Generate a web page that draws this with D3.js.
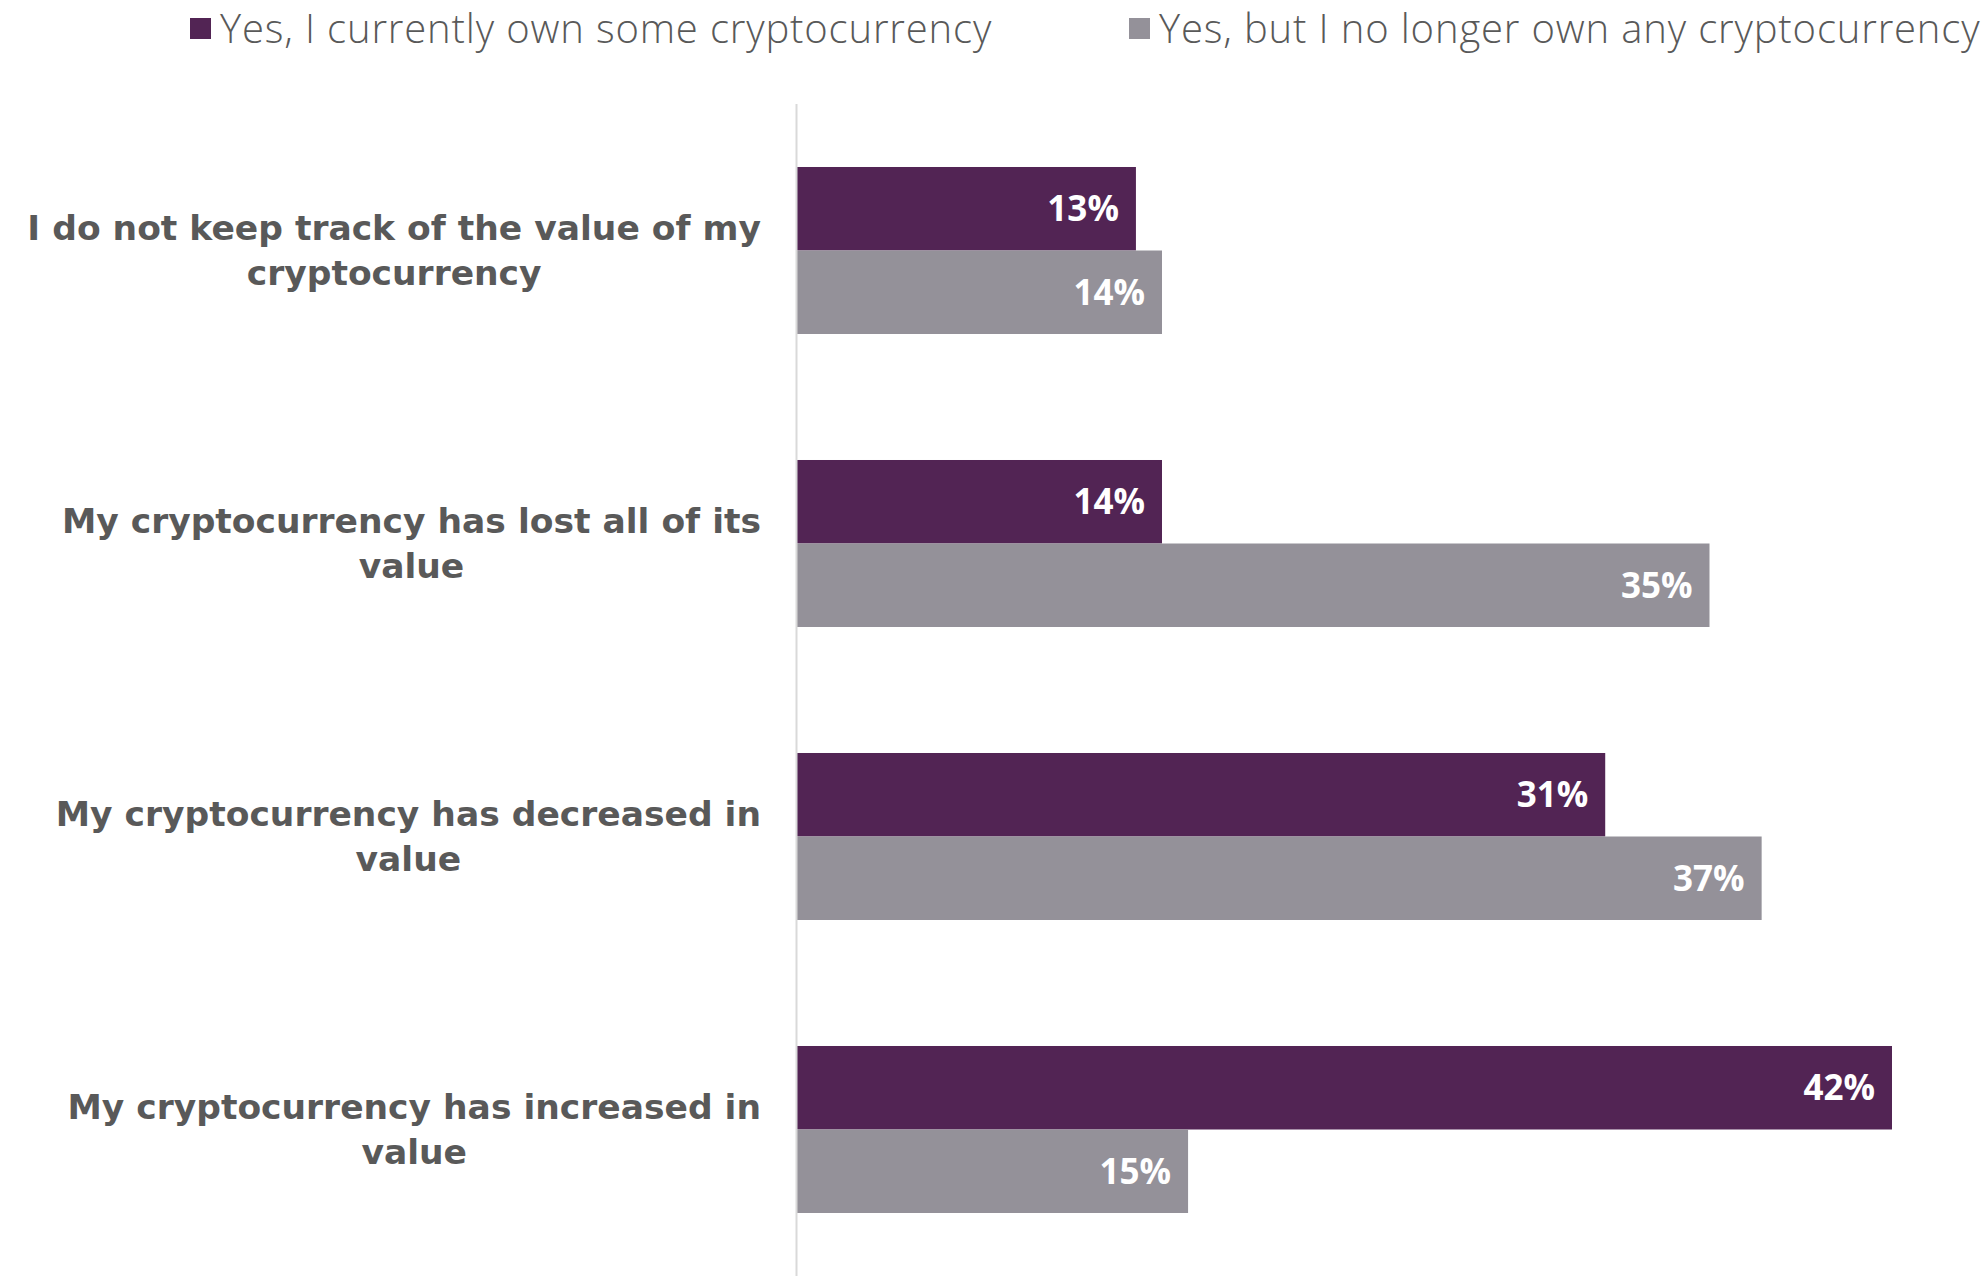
<!DOCTYPE html>
<html>
<head>
<meta charset="utf-8">
<script src="https://cdn.jsdelivr.net/npm/d3@7"></script>
<style>
  html, body { margin: 0; padding: 0; background: #ffffff; }
  svg { display: block; }
</style>
</head>
<body>
<svg id="chart" width="1986" height="1276"></svg>
<script>
// Survey answers, one row per statement (top to bottom)
const categories = [
  ["I do not keep track of the value of my", "cryptocurrency"],
  ["My cryptocurrency has lost all of its", "value"],
  ["My cryptocurrency has decreased in", "value"],
  ["My cryptocurrency has increased in", "value"]
];
const seriesNames = [
  "Yes, I currently own some cryptocurrency",
  "Yes, but I no longer own any cryptocurrency"
];
const currentOwners = [13, 14, 31, 42];
const formerOwners = [14, 35, 37, 15];

const colors = ["#522454", "#949199"];
const textGrey = "#595959";
const labelFont = "'Open Sans', 'DejaVu Sans', sans-serif";
const catFont = "'DejaVu Sans', 'Open Sans', sans-serif";

const svg = d3.select("#chart");
const W = 1986, H = 1276;
const x0 = 797;

const x = d3.scaleLinear().domain([0, 42]).range([x0, 1892]);
const y = d3.scaleBand()
  .domain(d3.range(categories.length))
  .range([104, 1276])
  .paddingInner(0.43)
  .paddingOuter(0.215);
const ySeries = d3.scaleBand()
  .domain([0, 1])
  .range([0, y.bandwidth()]);

const seriesValues = [currentOwners, formerOwners];

// Bars
seriesValues.forEach((vals, s) => {
  const g = svg.append("g");
  g.selectAll("rect")
    .data(vals)
    .join("rect")
    .attr("x", x(0))
    .attr("y", (d, i) => y(i) + ySeries(s))
    .attr("width", d => x(d) - x(0))
    .attr("height", ySeries.bandwidth())
    .attr("fill", colors[s]);

  g.selectAll("text")
    .data(vals)
    .join("text")
    .attr("x", d => x(d) - 17)
    .attr("y", (d, i) => y(i) + ySeries(s) + ySeries.bandwidth() / 2)
    .attr("dy", "0.35em")
    .attr("text-anchor", "end")
    .attr("fill", "#ffffff")
    .attr("font-family", labelFont)
    .attr("font-weight", 700)
    .attr("font-size", 35)
    .text(d => d + "%");
});

// Vertical baseline
svg.append("line")
  .attr("x1", x0 - 0.5).attr("x2", x0 - 0.5)
  .attr("y1", 104).attr("y2", H)
  .attr("stroke", "#d9d9d9")
  .attr("stroke-width", 2);

// Category labels: block right-aligned, lines centred within the block
const labelRight = 761;
const lineGap = 45.6;
categories.forEach((lines, i) => {
  const cy = y(i) + y.bandwidth() / 2;
  const t = svg.append("text")
    .attr("text-anchor", "middle")
    .attr("fill", textGrey)
    .attr("font-family", catFont)
    .attr("font-weight", 700)
    .attr("font-size", 34.5);
  const spans = lines.map((line, k) =>
    t.append("tspan")
      .attr("y", cy + (k - (lines.length - 1) / 2) * lineGap)
      .attr("dy", "0.35em")
      .text(line)
  );
  const maxW = d3.max(spans, sp => sp.node().getComputedTextLength());
  spans.forEach(sp => sp.attr("x", labelRight - maxW / 2));
});

// Legend
const legendItems = [
  { x: 190, name: seriesNames[0], color: colors[0] },
  { x: 1129, name: seriesNames[1], color: colors[1] }
];
const legend = svg.append("g");
legendItems.forEach(item => {
  legend.append("rect")
    .attr("x", item.x).attr("y", 18)
    .attr("width", 21).attr("height", 21)
    .attr("fill", item.color);
  legend.append("text")
    .attr("x", item.x + 30)
    .attr("y", 43)
    .attr("fill", textGrey)
    .attr("font-family", labelFont)
    .attr("font-weight", 300)
    .attr("font-size", 40)
    .attr("letter-spacing", 0.85)
    .text(item.name);
});
</script>
</body>
</html>
